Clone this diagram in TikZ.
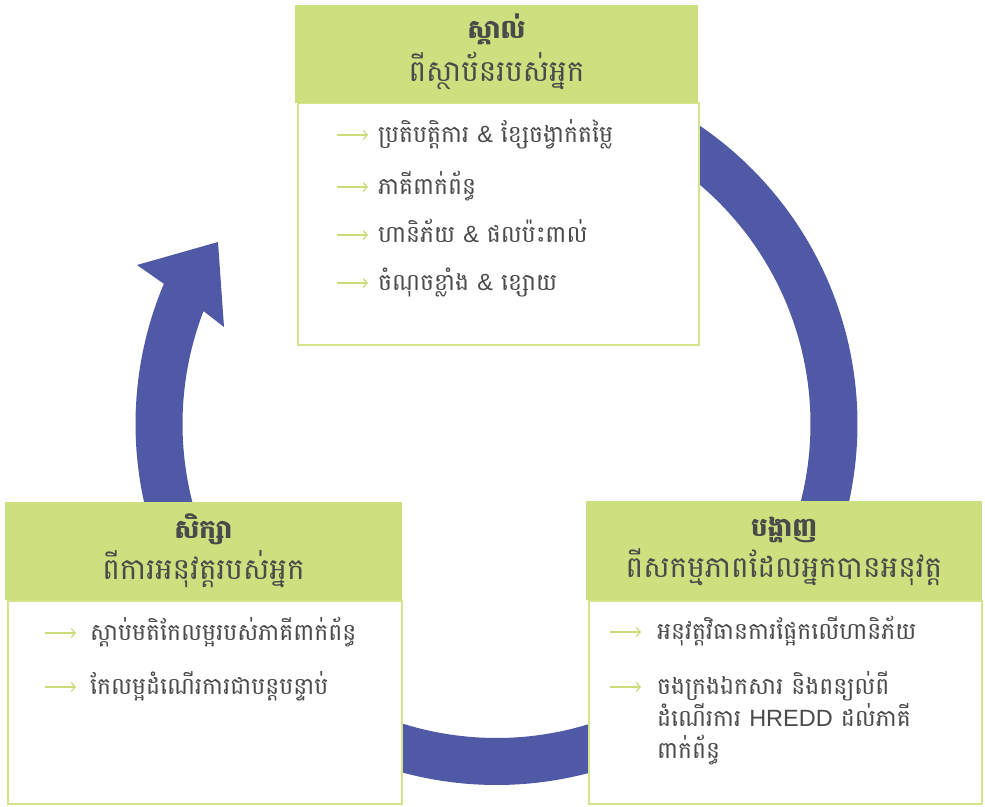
\documentclass[tikz,border=0pt]{standalone}
\usepackage{fontspec}
\setmainfont{Liberation Sans}
\newfontfamily\kh[Script=Khmer]{Battambang}
\newfontfamily\lat{Liberation Sans}
\usetikzlibrary{arrows.meta}
\definecolor{ringblue}{HTML}{5059A6}
\definecolor{hgreen}{HTML}{CDE07F}
\definecolor{bgreen}{HTML}{D3E48C}
\definecolor{txt}{HTML}{4A4A4A}
\definecolor{agreen}{HTML}{C9DD78}
\newcommand\kitem[5]{%
  \coordinate (#1s) at (#2,#3);
  \coordinate (#1e) at ([xshift=31pt]#1s);
  \draw[itemarrow] (#1s) -- (#1e);
  \node[item] (#1) at ([yshift=-7.5pt]#4,#3) {#5};}
\begin{document}
\begin{tikzpicture}[x=1pt,y=-1pt,
  header/.style={fill=hgreen, inner sep=0pt, anchor=north west},
  body/.style={draw=bgreen, line width=2.2pt, fill=white, inner sep=0pt, anchor=north west},
  title/.style={font=\kh\bfseries\fontsize{26}{30}\selectfont, text=txt, anchor=base, inner sep=0pt},
  subtitle/.style={font=\kh\fontsize{29.5}{34}\selectfont, text=txt, anchor=base, inner sep=0pt},
  item/.style={font=\kh\fontsize{23.5}{32}\selectfont, text=txt, anchor=base west, inner sep=0pt},
  itemarrow/.style={draw=agreen, line width=1.2pt, -{Straight Barb[length=4pt,width=9pt]}},
]
\useasboundingbox (0,0) rectangle (985,806);
\fill[white] (0,0) rectangle (985,806);
% ring arrow
\fill[ringblue] plot[domain=-90:202.86,samples=240] ({496.5+361*cos(\x)},{424+361*sin(\x)})
  -- (137,265) -- (218,242) -- (224,327)
  -- plot[domain=201.07:-90,samples=240] ({496.5+314*cos(\x)},{424+314*sin(\x)}) -- cycle;
% top box
\node[body, minimum width=401pt, minimum height=241.5pt] (topbody) at (296.5,102) {};
\node[header, minimum width=403pt, minimum height=98pt] (tophead) at (295,5) {};
% left box
\node[body, minimum width=394pt, minimum height=203pt] (leftbody) at (7,600) {};
\node[header, minimum width=397pt, minimum height=98pt] (lefthead) at (5,502) {};
% right box
\node[body, minimum width=393.5pt, minimum height=203pt] (rightbody) at (587.5,600) {};
\node[header, minimum width=396pt, minimum height=99pt] (righthead) at (586,501) {};
% titles
\node[title] (t1) at (496.5,38) {ស្គាល់};
\node[subtitle] (t2) at (496.5,81) {ពីស្ថាប័នរបស់អ្នក};
\node[title] (l1) at (203.5,538) {សិក្សា};
\node[subtitle] (l2) at (203.5,579) {ពីការអនុវត្តរបស់អ្នក};
\node[title] (r1) at (784,536) {បង្ហាញ};
\node[subtitle] (r2) at (784,577) {ពីសកម្មភាពដែលអ្នកបានអនុវត្ត};
% top items
\kitem{ta}{337}{135}{378}{ប្រតិបត្តិការ {\lat\&} ខ្សែចង្វាក់តម្លៃ}
\kitem{tb}{337}{187}{378}{ភាគីពាក់ព័ន្ធ}
\kitem{tc}{337}{235}{378}{ហានិភ័យ {\lat\&} ផលប៉ះពាល់}
\kitem{td}{337}{283}{378}{ចំណុចខ្លាំង {\lat\&} ខ្សោយ}
% left items
\kitem{la}{45}{633}{90}{ស្តាប់មតិកែលម្អរបស់ភាគីពាក់ព័ន្ធ}
\kitem{lb}{45}{687}{90}{កែលម្អដំណើរការជាបន្តបន្ទាប់}
% right items
\kitem{ra}{610}{632}{657}{អនុវត្តវិធានការផ្អែកលើហានិភ័យ}
\kitem{rb}{610}{687}{657}{ចងក្រងឯកសារ និងពន្យល់ពី}
\node[item] (rb2) at (657,726) {ដំណើរការ {\lat HREDD} ដល់ភាគី};
\node[item] (rb3) at (657,758) {ពាក់ព័ន្ធ};
\end{tikzpicture}
\end{document}
